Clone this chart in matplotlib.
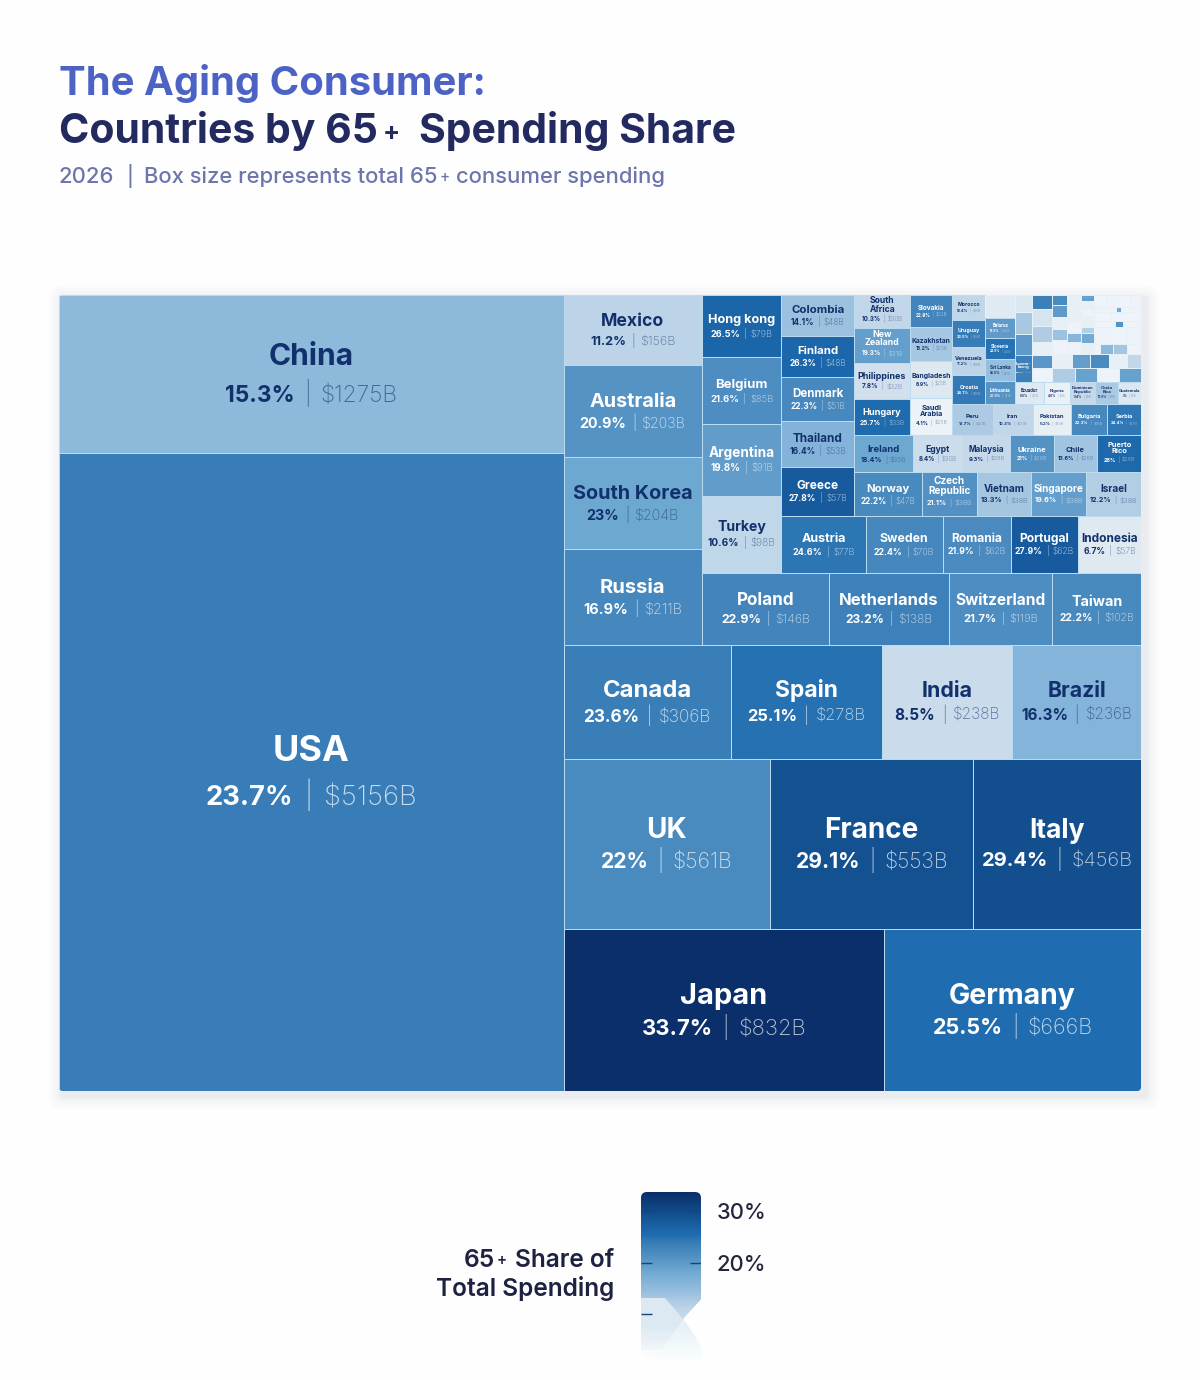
import numpy as np
import matplotlib
matplotlib.use("Agg")
import matplotlib.pyplot as plt
from matplotlib.colors import LinearSegmentedColormap, to_rgb
from matplotlib.patches import FancyBboxPatch, Polygon

FONT = "Inter"
plt.rcParams["font.family"] = [FONT, "DejaVu Sans"]

# ---------- data ----------
big_names = ["China", "USA", "Japan", "Germany", "UK", "France", "Italy", "Canada", "Spain", "India", "Brazil"]
big_share = [15.3, 23.7, 33.7, 25.5, 22, 29.1, 29.4, 23.6, 25.1, 8.5, 16.3]
big_spend = [1275, 5156, 832, 666, 561, 553, 456, 306, 278, 238, 236]

mid_names = ["Mexico", "Australia", "South Korea", "Russia", "Poland", "Netherlands", "Switzerland", "Taiwan",
             "Hong kong", "Belgium", "Argentina", "Turkey", "Austria", "Sweden", "Romania", "Portugal", "Indonesia",
             "Colombia", "Finland", "Denmark", "Thailand", "Greece"]
mid_share = [11.2, 20.9, 23, 16.9, 22.9, 23.2, 21.7, 22.2,
             26.5, 21.6, 19.8, 10.6, 24.6, 22.4, 21.9, 27.9, 6.7,
             14.1, 26.3, 22.3, 16.4, 27.8]
mid_spend = [156, 203, 204, 211, 146, 138, 119, 102,
             79, 85, 91, 98, 77, 70, 62, 62, 57,
             48, 48, 51, 53, 57]

small_names = ["South\nAfrica", "New\nZealand", "Philippines", "Hungary",
               "Slovakia", "Kazakhstan", "Bangladesh", "Saudi\nArabia",
               "Norway", "Czech\nRepublic", "Vietnam", "Singapore", "Israel",
               "Ireland", "Egypt", "Malaysia", "Ukraine", "Chile", "Puerto\nRico",
               "Peru", "Iran", "Pakistan", "Bulgaria", "Serbia",
               "Morocco", "Uruguay", "Venezuela", "Croatia",
               "Belarus", "Slovenia", "Sri Lanka", "Lithuania",
               "Luxem-\nbourg", "Ecuador", "Nigeria", "Dominican\nRepublic", "Costa\nRica", "Guatemala"]
small_share = [10.3, 19.3, 7.8, 25.7,
               22.9, 13.2, 6.9, 4.1,
               22.2, 21.1, 13.3, 19.6, 12.2,
               18.4, 8.4, 9.3, 21, 13.6, 26.0,
               12.7, 10.3, 5.2, 22.3, 24.4,
               10.4, 23.9, 11.2, 24.1,
               19.9, 24.9, 14.5, 20.9,
               20.6, 6.6, 4.6, 9.4, 12.9, 7]
small_spend = [30, 31, 32, 33,
               22, 23, 25, 25,
               47, 38, 38, 38, 38,
               35, 30, 28, 26, 26, 26,
               20, 20, 19, 18, 17,
               13, 14, 15, 15,
               10, 10, 11, 11,
               7, 10, 9, 9, 8, 8]

# tiles whose text is too small to read: estimated from their colour and size
tiny_ids = ["t%02d" % i for i in range(1, 50)]
tiny_share = [6.5,
              7, 13, 20, 4.5,
              23.5, 7.5, 12.5, 5, 20.5, 4,
              22, 20, 5, 14, 4,
              5, 5, 5, 4, 16, 4,
              19, 5, 4, 5, 12, 18, 5,
              3, 4, 3, 4,
              4, 18, 4,
              3, 4, 3,
              4, 21, 4,
              4, 3, 4,
              4, 15.5, 13.5, 4]
tiny_spend = [11,
              4.4, 5.7, 5.7, 6,
              4.5, 5.5, 5.1, 4.5, 4.2, 4.5,
              2.4, 2.9, 2.9, 2.9, 3.4,
              1.8, 2, 2, 2.7, 2.25, 2.7,
              1.15, 1.55, 1.35, 2.1, 1.15, 1.9, 2.3,
              2.3, 2.3, 2.3, 2.1,
              1.77, .4, 1.6,
              2.3, 2.3, 2.17,
              2, .77, 1.73,
              4.6, 4.6, 4.3,
              .96, 2.1, 2.25, 2.25]
tiny2_ids = ["r%02d" % i for i in range(1, 10)]
tiny2_share = [5, 19.5, 22, 5, 10, 12.5, 19, 4, 19]
tiny2_spend = [4.5, 4.05, 4.05, 4.05, 3.15, 5, 5, 5, 4.8]

# tiles whose fill does not follow the printed share in the reference
fill_override = {"Russia": 22.5, "South Korea": 18.3, "Luxem-\nbourg": 23.5, "New\nZealand": 19.6}

legend_ticks = [30, 20, 10]
legend_tick_labels = ["30%", "20%"]

names = big_names + mid_names + small_names + tiny_ids + tiny2_ids
shares = big_share + mid_share + small_share + tiny_share + tiny2_share
spends = big_spend + mid_spend + small_spend + tiny_spend + tiny2_spend
value = dict(zip(names, spends))
share = dict(zip(names, shares))

# how the tiles nest: H splits left-right, V splits top-bottom, by spending
def V(*c): return ("V", c)
def H(*c): return ("H", c)

T = tiny_ids
R = tiny2_ids
corner = V(
    H(V(*T[1:4], "Luxem-\nbourg"), V(*T[5:11]),
      V(V(H(V(*T[11:16]), V(*T[16:22]), V(*T[22:29]),
            V(V(H(*T[29:33]), H(*T[33:36]), H(*T[36:39]), H(*T[39:42]), H(*T[42:45])), H(*T[45:49]))),
          H(*R[:5])),
        H(*R[5:]))),
    H("Ecuador", "Nigeria", "Dominican\nRepublic", "Costa\nRica", "Guatemala"))
little = H(V("Morocco", "Uruguay", "Venezuela", "Croatia"),
           V(T[0], "Belarus", "Slovenia", "Sri Lanka", "Lithuania"),
           corner)
upper_small = H(V("South\nAfrica", "New\nZealand", "Philippines", "Hungary"),
                V("Slovakia", "Kazakhstan", "Bangladesh", "Saudi\nArabia"),
                V(little, H("Peru", "Iran", "Pakistan", "Bulgaria", "Serbia")))
small_block = V(upper_small,
                H("Ireland", "Egypt", "Malaysia", "Ukraine", "Chile", "Puerto\nRico"),
                H("Norway", "Czech\nRepublic", "Vietnam", "Singapore", "Israel"))
top_block = H(V("Mexico", "Australia", "South Korea", "Russia"),
              V(H(V("Hong kong", "Belgium", "Argentina", "Turkey"),
                  V(H(V("Colombia", "Finland", "Denmark", "Thailand", "Greece"), small_block),
                    H("Austria", "Sweden", "Romania", "Portugal", "Indonesia"))),
                H("Poland", "Netherlands", "Switzerland", "Taiwan")))
tree = H(V("China", "USA"),
         V(top_block,
           H("Canada", "Spain", "India", "Brazil"),
           H("UK", "France", "Italy"),
           H("Japan", "Germany")))

def total(n):
    return value[n] if isinstance(n, str) else sum(total(c) for c in n[1])

def layout(n, x, y, w, h, out):
    if isinstance(n, str):
        out.append((n, x, y, w, h))
        return
    t = total(n)
    for c in n[1]:
        f = total(c) / t
        if n[0] == "H":
            layout(c, x, y, w * f, h, out)
            x += w * f
        else:
            layout(c, x, y, w, h * f, out)
            y += h * f

# ---------- colour scale ----------
stops = [(0, "#f2f7fb"), (4, "#edf3f8"), (6.7, "#dfe9f2"), (8.5, "#c9dbeb"), (11.2, "#bdd4e8"),
         (15.3, "#8db9db"), (16.3, "#84b4d9"), (18.5, "#6ca7d1"), (20, "#5f9aca"), (22, "#4a8abf"),
         (23.7, "#3a7eb8"), (25.5, "#1f6db0"), (27, "#1a62a6"), (29.4, "#13508f"), (33.7, "#0a2f6b")]
VMAX = 33.7
cmap = LinearSegmentedColormap.from_list("share", [(v / VMAX, c) for v, c in stops])
def colour(v): return cmap(min(v, VMAX) / VMAX)

# ---------- figure ----------
W, H_ = 1200, 1380
fig = plt.figure(figsize=(W / 100, H_ / 100), dpi=100, facecolor="#fefefe")
renderer = fig.canvas.get_renderer()

def px_axes(x0, y0, x1, y1, **kw):
    a = fig.add_axes([x0 / W, 1 - y1 / H_, (x1 - x0) / W, (y1 - y0) / H_], **kw)
    a.patch.set_alpha(0)
    return a

def width_of(t):
    return t.get_window_extent(renderer).width

shadow = px_axes(0, 0, W, H_)
shadow.set_xlim(0, W); shadow.set_ylim(H_, 0); shadow.axis("off"); shadow.set_zorder(0)
for pad, a in [(14, .010), (11, .012), (8, .016), (5, .02), (3, .025)]:
    shadow.add_patch(FancyBboxPatch((59 + 4, 295 + 4), 1082, 796, boxstyle=f"round,pad={pad},rounding_size={pad}",
                                    fc="#28456b", ec="none", alpha=a))

bg = px_axes(0, 0, W, H_)
bg.set_xlim(0, W); bg.set_ylim(H_, 0); bg.axis("off"); bg.set_zorder(5)

def run(x, y, parts, size, color, weight, ha="left"):
    """Text with a small plus sign: parts is a list of (text, scale, gap after, raised)."""
    objs = []
    total_w = 0
    for txt, scale, gap, rise in parts:
        o = bg.text(0, y - rise, txt, fontsize=size * scale, color=color, fontweight=weight, va="baseline")
        objs.append((o, gap))
        total_w += width_of(o) + gap
    cx = x if ha == "left" else x - (total_w - parts[-1][2])
    for o, gap in objs:
        o.set_x(cx)
        cx += width_of(o) + gap

bg.text(59, 95, "The Aging Consumer:", fontsize=28.8, fontweight="bold", color="#4c62c4", va="baseline")
run(59, 143, [("Countries by 65", 1, 5, 0), ("+", .62, 19, 3), ("Spending Share", 1, 0, 0)],
    29.5, "#232a60", "bold")
run(59, 183, [("2026", 1, 12, 0), ("|", .9, 11, 0), ("Box size represents total 65", 1, 2, 0), ("+", .7, 6, 1),
              ("consumer spending", 1, 0, 0)], 15.85, "#6c76ad", "medium")

# ---------- treemap ----------
TW, TH = 1082, 796
ax = px_axes(59, 295, 59 + TW, 295 + TH)
ax.set_xlim(0, TW); ax.set_ylim(TH, 0); ax.axis("off"); ax.set_zorder(2)
tiles = []
layout(tree, 0, 0, TW, TH, tiles)
fills = [colour(fill_override.get(n, share[n])) for n, *_ in tiles]
edges = ["#e6f1f8" if n in tiny_ids or n in tiny2_ids else "#bcdcf0" for n, *_ in tiles]
bars = ax.bar([t[1] for t in tiles], [t[4] for t in tiles], width=[t[3] for t in tiles],
              bottom=[t[2] for t in tiles], align="edge", color=fills, edgecolor=edges, linewidth=0.7)
clip = FancyBboxPatch((0, 0), TW, TH, boxstyle="round,pad=0,rounding_size=4", transform=ax.transData, fc="none", ec="none")
ax.add_patch(clip)
for b in bars:
    b.set_clip_path(clip)

size_in = [24, 28, 36, 44, 55, 69, 95, 139, 188, 228, 282, 566]
size_out = [4.2, 5, 6, 8.8, 11.5, 12.5, 17, 24, 28, 29, 30, 36]

def blend(a, b, f):
    return tuple(f * x + (1 - f) * y for x, y in zip(to_rgb(a), to_rgb(b)))

for (n, x, y, w, h), fc in zip(tiles, fills):
    if n in tiny_ids or n in tiny2_ids:
        continue
    fv = fill_override.get(n, share[n])
    dark = fv < 18.8
    main = "#12306b" if dark else "#ffffff"
    soft = blend(main, fc, 0.6 if dark else 0.72)
    s = float(np.interp(np.sqrt(w * h), size_in, size_out))
    lines = n.count("\n")
    ratio = .76 if s > 26 else .72
    need = (lines + 1) * s * 1.02 + ratio * s
    if need > .88 * h:
        s *= .88 * h / need
    t = ax.text(x + w / 2, 0, n, fontsize=s * .72, fontweight="bold", color=main, ha="center",
                va="center" if lines else "baseline", linespacing=0.95, clip_on=True)
    wd = width_of(t)
    if wd > .93 * w:
        s *= .93 * w / wd
        t.set_fontsize(s * .72)
    st = s * ratio
    pieces = [(f"{share[n]:g}%", "bold", main), ("|", "light", soft), (f"${value[n]:g}B", "light", soft)]
    objs = [ax.text(0, 0, p, fontsize=st * .72, fontweight=wt, color=c, ha="left", va="baseline") for p, wt, c in pieces]
    gap = .42 * st
    tot = sum(width_of(o) for o in objs) + 2 * gap
    if tot > .95 * w:
        f = .95 * w / tot
        st *= f; gap *= f
        for o in objs:
            o.set_fontsize(st * .72)
        tot = sum(width_of(o) for o in objs) + 2 * gap
    sep = (1.3 if s > 30 else 1.15) * s
    lh = s * .98
    d = sep + lines * lh / 2
    cy = y + h / 2
    t.set_y(cy - d / 2 + (0 if lines else .36 * s))
    sy = cy + d / 2 + .36 * st
    cx = x + w / 2 - tot / 2
    for o in objs:
        o.set_position((cx, sy))
        cx += width_of(o) + gap

# ---------- legend ----------
LEFT, TOP, RIGHT, BOTTOM = 641, 1192, 701, 1357
low = 1.7
lax = px_axes(LEFT, TOP, RIGHT, BOTTOM)
lax.set_xlim(0, 1); lax.set_ylim(low, VMAX); lax.axis("off"); lax.set_zorder(3)
grad = np.linspace(VMAX, low, 256)[:, None]
im = lax.imshow(grad, cmap=cmap, vmin=0, vmax=VMAX, aspect="auto", extent=(0, 1, low, VMAX))
lclip = FancyBboxPatch((LEFT, TOP), RIGHT - LEFT, BOTTOM - TOP, boxstyle="round,pad=0,rounding_size=6",
                       transform=shadow.transData, fc="none", ec="none")
im.set_clip_path(lclip)

over = px_axes(630, 1180, 720, 1370)
over.set_xlim(630, 720); over.set_ylim(1370, 1180); over.axis("off"); over.set_zorder(4)
over.add_patch(Polygon([(641, 1298), (665, 1298), (683, 1319), (662, 1350), (641, 1350)], fc="#dde9f2", ec="none"))
over.add_patch(Polygon([(704, 1296), (683, 1319), (704, 1350)], fc="#fefefe", ec="none"))
over.add_patch(Polygon([(683, 1319), (702, 1350), (702, 1360), (650, 1360), (662, 1350)], fc="#e6f2f8", ec="none"))
fade = np.ones((64, 1, 4))
fade[:, 0, 3] = np.linspace(0, .92, 64)
over.imshow(fade, extent=(639, 704, 1362, 1326), aspect="auto", zorder=5)
over.set_xlim(630, 720); over.set_ylim(1370, 1180)

tax = px_axes(LEFT, TOP, RIGHT, BOTTOM)
tax.set_xlim(0, 1); tax.set_ylim(low, VMAX); tax.axis("off"); tax.set_zorder(5)
tax.hlines(legend_ticks, 0, .18, color="#15457f", lw=1.0)
tax.hlines(legend_ticks[:2], .82, 1, color="#15457f", lw=1.0)

for v, lab in zip(legend_ticks, legend_tick_labels):
    bg.text(717, 1213 + (30 - v) * 5.2, lab, fontsize=15.8, color="#23263f", va="center", fontweight="medium")
run(614, 1267, [("65", 1, 2, 0), ("+", .62, 8, 2), ("Share of", 1, 0, 0)], 17.6, "#1d2240", "semibold", ha="right")
run(614, 1296, [("Total Spending", 1, 0, 0)], 17.6, "#1d2240", "semibold", ha="right")

fig.savefig("out.png", dpi=100, facecolor=fig.get_facecolor())
